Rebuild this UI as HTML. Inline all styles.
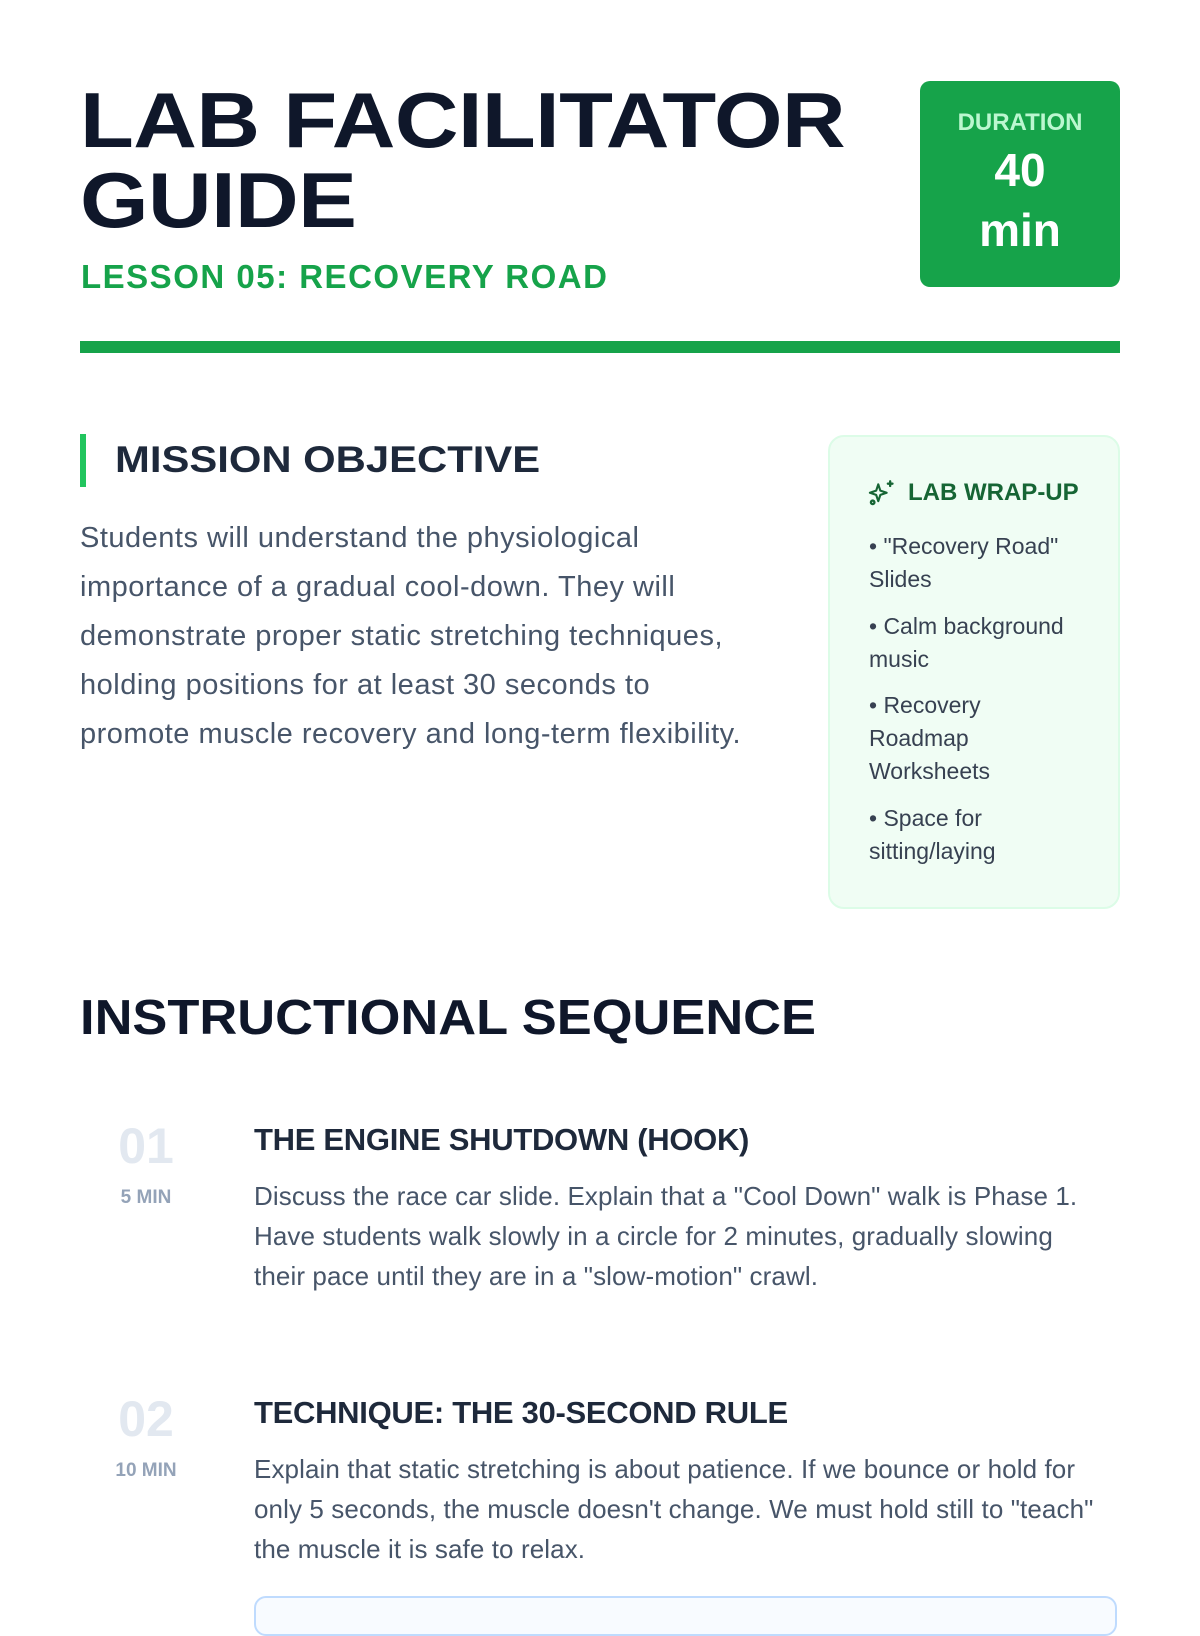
<!DOCTYPE html>
<html><head><meta charset="utf-8"><style>
*{margin:0;padding:0;box-sizing:border-box}
body{width:1200px;height:1600px;background:#fff;position:relative;overflow:hidden;font-family:"Liberation Sans",sans-serif}
.a{position:absolute;white-space:nowrap}
.t{font-weight:900;color:#0f172a;font-size:78px;line-height:80px;letter-spacing:-0.5px;transform:scaleX(1.13);transform-origin:left center}
.p{color:#475569;font-size:29px;line-height:49px;letter-spacing:0.5px}
.w{color:#374151;font-size:23px;line-height:33px}
.num{font-weight:700;color:#e2e8f0;font-size:50px;line-height:50px;text-align:center;width:100px}
.min{font-weight:700;color:#94a3b8;font-size:19px;line-height:24px;text-align:center;width:100px}
.st{font-weight:700;color:#1e293b;font-size:31px;line-height:40px;letter-spacing:-0.3px}
.sb{color:#475569;font-size:26px;line-height:40px;letter-spacing:0.1px}
</style></head><body>
<div class="a t" style="left:80px;top:80px">LAB FACILITATOR</div>
<div class="a t" style="left:80px;top:160px">GUIDE</div>
<div class="a" style="left:81px;top:257px;font-size:33px;line-height:40px;font-weight:700;color:#16a34a;letter-spacing:1.5px">LESSON 05: RECOVERY ROAD</div>
<div class="a" style="left:920px;top:81px;width:200px;height:206px;background:#16a34a;border-radius:10px;text-align:center">
<div style="margin-top:28px;font-size:24px;line-height:28px;font-weight:700;color:#bbf7d0">DURATION</div>
<div style="margin-top:4px;font-size:46px;line-height:58px;font-weight:700;color:#fff">40</div>
<div style="font-size:46px;line-height:62px;font-weight:700;color:#fff">min</div>
</div>
<div class="a" style="left:80px;top:341px;width:1040px;height:12px;background:#16a34a"></div>
<div class="a" style="left:80px;top:434px;width:6px;height:53px;background:#22c55e"></div>
<div class="a" style="left:115px;top:438px;font-size:37px;line-height:44px;font-weight:900;color:#1e293b;transform:scaleX(1.13);transform-origin:left center">MISSION OBJECTIVE</div>
<div class="a p" style="left:80px;top:514px">Students will understand the physiological<br>importance of a gradual cool-down. They will<br>demonstrate proper static stretching techniques,<br>holding positions for at least 30 seconds to<br>promote muscle recovery and long-term flexibility.</div>
<div class="a" style="left:828px;top:435px;width:292px;height:474px;background:#f0fdf4;border:2px solid #dcfce7;border-radius:16px"></div>
<svg class="a" style="left:868px;top:479px" width="28" height="28" viewBox="0 0 24 24" fill="none" stroke="#166534" stroke-width="2" stroke-linecap="round" stroke-linejoin="round"><path d="M12 4l2 6 6 2-6 2-2 6-2-6-6-2 6-2z" transform="translate(-2 1) scale(0.9)"/><path d="M19 2v4M17 4h4"/><circle cx="4" cy="20" r="1.5"/></svg>
<div class="a" style="left:908px;top:479px;font-size:24px;line-height:28px;font-weight:700;color:#166534">LAB WRAP-UP</div>
<div class="a w" style="left:869px;top:530px">• "Recovery Road"<br>Slides</div>
<div class="a w" style="left:869px;top:610px">• Calm background<br>music</div>
<div class="a w" style="left:869px;top:689px">• Recovery<br>Roadmap<br>Worksheets</div>
<div class="a w" style="left:869px;top:802px">• Space for<br>sitting/laying</div>
<div class="a" style="left:80px;top:990px;font-size:49px;line-height:56px;font-weight:900;color:#0f172a;transform:scaleX(1.07);transform-origin:left center">INSTRUCTIONAL SEQUENCE</div>
<div class="a num" style="left:96px;top:1121px">01</div>
<div class="a min" style="left:96px;top:1186px">5 MIN</div>
<div class="a st" style="left:254px;top:1120px">THE ENGINE SHUTDOWN (HOOK)</div>
<div class="a sb" style="left:254px;top:1176px">Discuss the race car slide. Explain that a "Cool Down" walk is Phase 1.<br>Have students walk slowly in a circle for 2 minutes, gradually slowing<br>their pace until they are in a "slow-motion" crawl.</div>
<div class="a num" style="left:96px;top:1394px">02</div>
<div class="a min" style="left:96px;top:1459px">10 MIN</div>
<div class="a st" style="left:254px;top:1393px">TECHNIQUE: THE 30-SECOND RULE</div>
<div class="a sb" style="left:254px;top:1449px">Explain that static stretching is about patience. If we bounce or hold for<br>only 5 seconds, the muscle doesn't change. We must hold still to "teach"<br>the muscle it is safe to relax.</div>
<div class="a" style="left:254px;top:1596px;width:863px;height:40px;border:2px solid #bfdbfe;border-radius:12px;background:#f8fbff"></div>
</body></html>
